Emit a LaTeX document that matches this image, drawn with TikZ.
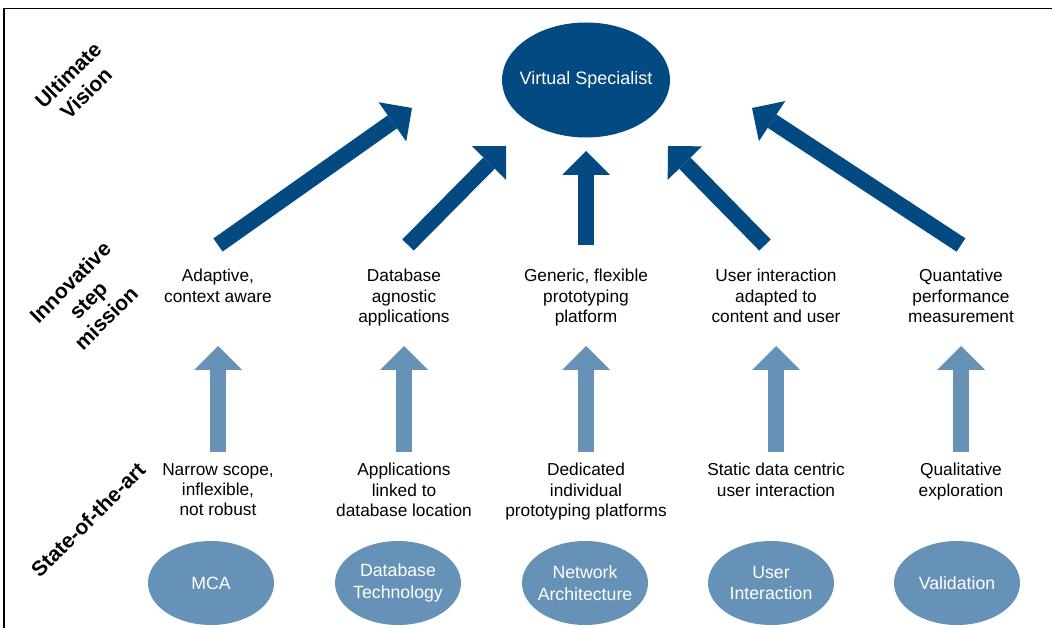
\documentclass[tikz,border=0pt]{standalone}
\usepackage{fontspec}
\setmainfont{Liberation Sans}
\usetikzlibrary{arrows.meta,shapes.geometric}
\definecolor{darkblue}{RGB}{3,74,130}
\definecolor{lightblue}{RGB}{102,146,183}

\begin{document}
\begin{tikzpicture}[
    area/.style={
        ellipse,
        minimum width=3.15cm,
        minimum height=2.1cm,
        inner xsep=-0.1cm,
        inner ysep=0pt,
        fill=lightblue,
        text=white,
        font=\fontsize{12.6}{15.5}\selectfont,
        align=center
    },
    txt/.style={
        anchor=north,
        inner sep=0pt,
        align=center,
        font=\fontsize{12.3}{14.5}\selectfont
    },
    stage/.style={
        rotate=45,
        inner sep=0pt,
        align=center,
        font=\fontsize{15}{18}\selectfont\bfseries
    },
    up/.style={
        lightblue,
        line width=0.4cm,
        shorten <=0.275cm,
        -{Triangle[width=1.2cm, length=0.6cm, line width=0pt]}
    },
    goal/.style={
        darkblue,
        line width=0.4cm,
        -{Triangle[width=1.2cm, length=0.6cm, line width=0pt]}
    }
]

\useasboundingbox (0,0) rectangle (26.3,15.7);
\draw[line width=1.2pt] (26.3,15.4875) -| (0.1,0);

\node[ellipse, minimum width=4.2cm, minimum height=2.875cm, inner xsep=-0.2cm, inner ysep=0pt,
      fill=darkblue, text=white, font=\fontsize{12.8}{15}\selectfont] (vision) at (14.65,13.7) {Virtual Specialist};

\node[stage] (ultimate) at (1.925,13.6) {Ultimate\\Vision};
\node[stage] (innovative) at (2.2,8.2) {Innovative\\step\\mission};
\node[stage] (sota) at (2.2,2.7) {State-of-the-art};

\node[txt] (innov1) at (5.45,8.975) {Adaptive,\\context aware};
\node[txt] (innov2) at (10.1,8.975) {Database\\agnostic\\applications};
\node[txt] (innov3) at (14.65,8.975) {Generic, flexible\\prototyping\\platform};
\node[txt] (innov4) at (19.4,8.975) {User interaction\\adapted to\\content and user};
\node[txt] (innov5) at (24.025,8.975) {Quantative\\performance\\measurement};

\node[txt] (sota1) at (5.45,4.125) {Narrow scope,\\inflexible,\\not robust};
\node[txt] (sota2) at (10.1,4.125) {Applications\\linked to\\database location};
\node[txt] (sota3) at (14.65,4.125) {Dedicated\\individual\\prototyping platforms};
\node[txt] (sota4) at (19.4,4.125) {Static data centric\\user interaction};
\node[txt] (sota5) at (24.025,4.125) {Qualitative\\exploration};

\node[area] (mca) at (5.275,1.125) {MCA};
\node[area] (database) at (9.95,1.125) {Database\\Technology};
\node[area] (network) at (14.625,1.125) {Network\\Architecture};
\node[area] (user) at (19.275,1.125) {User\\Interaction};
\node[area] (validation) at (23.925,1.125) {Validation};

\coordinate (midline) at (0,7.05);
\coordinate (tip1) at (10.3,13.0);
\coordinate (tip2) at (12.65,12.05);
\coordinate (tip3) at (14.65,11.925);
\coordinate (tip4) at (16.7,12.05);
\coordinate (tip5) at (18.8,13.0);

\draw[up] (sota1.north) -- (sota1.north |- midline);
\draw[up] (sota2.north) -- (sota2.north |- midline);
\draw[up] (sota3.north) -- (sota3.north |- midline);
\draw[up] (sota4.north) -- (sota4.north |- midline);
\draw[up] (sota5.north) -- (sota5.north |- midline);

\draw[goal] ([yshift=0.6cm]innov1.north) -- (tip1);
\draw[goal] ([xshift=0.1cm, yshift=0.6cm]innov2.north) -- (tip2);
\draw[goal] ([yshift=0.6cm]innov3.north) -- (tip3);
\draw[goal] ([xshift=-0.275cm, yshift=0.6cm]innov4.north) -- (tip4);
\draw[goal] ([yshift=0.6cm]innov5.north) -- (tip5);

\end{tikzpicture}
\end{document}
